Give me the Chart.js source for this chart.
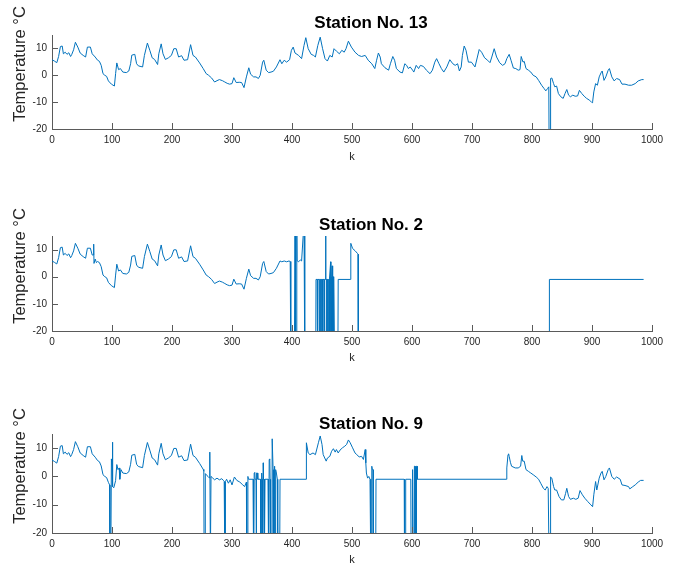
<!DOCTYPE html>
<html><head><meta charset="utf-8">
<script src="https://cdn.jsdelivr.net/npm/chart.js@4.4.1/dist/chart.umd.min.js"></script>
<style>
html,body{margin:0;padding:0;background:#fff}
body{width:678px;height:569px;position:relative;overflow:hidden}
canvas{position:absolute;left:0}
</style>
</head><body>
<canvas id="c1" width="678" height="190" style="top:0px"></canvas>
<canvas id="c2" width="678" height="190" style="top:190px"></canvas>
<canvas id="c3" width="678" height="189" style="top:380px"></canvas>
<script>
// ---- data (k, temperature °C) ----
const xTicks = [0,100,200,300,400,500,600,700,800,900,1000];
const yTicks = [-20,-10,0,10];
const titles = ["Station No. 13","Station No. 2","Station No. 9"];

const station13 = [[0,5.8],[4,5.3],[8,4.7],[11,7],[14,10.7],[17,10.9],[19,8],[22,8.6],[25,7.8],[28,8.4],[31,7],[33,7.8],[36,9.5],[39,12.3],[43,10.5],[47,8.3],[52,7.4],[56,6.8],[59,10.5],[64,10.5],[67,8],[72,6.8],[76,5.6],[79,5.2],[82,3.7],[85,0.6],[88,0],[91,-0.4],[94,-2.1],[99,-3.3],[104,-4],[106,0.6],[108,4.6],[111,2.1],[114,2.5],[118,1.2],[124,1],[128,1.6],[131,4.3],[133,7.5],[138,7.8],[141,4.3],[144,3.5],[151,3.1],[154,7.4],[159,12],[163,9.3],[167,6.5],[171,5.9],[176,4],[178,8],[182,11.7],[185,8],[189,5.9],[194,6.5],[199,7.4],[203,9.9],[207,9.9],[211,6.8],[216,7.3],[220,5.6],[226,5.8],[231,11.4],[235,7.4],[239,6.8],[246,4.6],[252,2.5],[257,0.6],[261,0],[266,-1],[271,-2.5],[275,-2],[279,-1.6],[284,-2],[288,-2.5],[292,-3],[296,-3.3],[300,-3.1],[303,-0.9],[307,-2.7],[312,-2.6],[316,-2.7],[320,-4.6],[324,-0.6],[328,2.8],[331,0.4],[336,-0.6],[340,-0.6],[344,-1.2],[347,0],[351,4.9],[353,5.6],[357,1.9],[361,1],[365,1.2],[369,1.5],[374,3.1],[380,5.8],[383,4.3],[387,5.6],[391,4.9],[396,5.8],[399,9.3],[402,10.5],[405,8.3],[411,7.4],[416,6.2],[420,11.1],[423,14],[427,9.9],[432,7.8],[436,7.4],[439,6.8],[443,11.1],[447,14.2],[451,9.9],[455,6.2],[459,5.3],[463,7.4],[467,6.8],[470,9.9],[474,9],[479,8],[483,9.3],[487,8.6],[490,9.9],[494,12.7],[499,10.5],[505,8.6],[511,7.4],[516,7],[522,7.4],[527,5.6],[533,4.3],[538,2.5],[541,5.6],[544,8.3],[547,6.8],[549,4.3],[555,2.8],[561,1.9],[564,4.3],[568,7],[571,5.6],[574,2.5],[580,1.2],[584,0.9],[588,4.3],[591,3.7],[594,2.5],[597,3.1],[601,1.9],[603,1.2],[607,3.7],[611,2.5],[614,3.7],[619,3.3],[624,1.9],[630,0.6],[634,1.9],[638,4.9],[641,6.2],[645,4.3],[649,2.5],[653,1.2],[658,3.1],[663,5.8],[668,4.3],[672,3.7],[676,4.3],[679,1.6],[682,3.1],[684,7.4],[687,10.9],[690,9.3],[694,4.9],[699,4.9],[705,3.1],[709,6.8],[712,9.6],[716,8.6],[721,6.5],[726,5.6],[730,4.7],[733,6.8],[737,9.9],[741,6.8],[746,4.7],[751,3.7],[755,4.3],[758,6.2],[762,7.8],[765,5.6],[769,2.7],[773,2.5],[777,1.9],[780,2.1],[782,7],[785,4.9],[787,5.2],[790,2.5],[794,1.9],[798,1.2],[802,0],[807,-0.6],[811,-1.9],[816,-3.7],[820,-4.9],[823,-5.8],[826,-4.9],[828,-4.3],[828.6,-30],[830.4,-30],[831,-1.2],[833,-1],[836,-3.1],[838,-4.3],[841,-4],[844,-6.8],[848,-8],[852,-8.6],[855,-6.8],[858,-5.3],[861,-7.4],[864,-8],[868,-7.4],[872,-7.8],[876,-7.7],[879,-5.6],[883,-6.8],[887,-7.8],[891,-8.6],[896,-9.3],[900,-10.2],[901,-9.9],[903,-6.2],[906,-3.1],[909,-3.7],[912,-0.6],[915,0.9],[917,1.6],[920,-1.9],[923,-0.6],[927,1.9],[929,2.5],[933,-0.6],[937,-2.1],[941,-1.2],[946,-1.6],[950,-3.3],[955,-3.3],[961,-3.7],[966,-3.7],[972,-3.1],[977,-2.1],[983,-1.6],[986,-1.6]];

const station2 = [[0,5.8],[4,5.3],[8,4.7],[11,7],[14,10.7],[17,10.9],[19,8],[22,8.6],[25,7.8],[28,8.4],[31,7],[33,7.8],[36,9.5],[39,12.3],[43,10.5],[47,8.3],[52,7.4],[56,6.8],[59,10.5],[64,10.5],[67,8],[69,8],[69.5,12],[70,4.9],[72,6.5],[74,5.2],[76,5.6],[79,5.2],[82,3.7],[85,0.6],[88,0],[91,-0.4],[94,-2.1],[99,-3.3],[104,-4],[106,0.6],[108,4.6],[111,2.1],[114,2.5],[118,1.2],[124,1],[128,1.6],[131,4.3],[133,7.5],[138,7.8],[141,4.3],[144,3.5],[151,3.1],[154,7.4],[159,12],[163,9.3],[167,6.5],[171,5.9],[176,4],[178,8],[182,11.7],[185,8],[189,5.9],[194,6.5],[199,7.4],[203,9.9],[207,9.9],[211,6.8],[216,7.3],[220,5.6],[226,5.8],[231,11.4],[235,7.4],[239,6.8],[246,4.6],[252,2.5],[257,0.6],[261,0],[266,-1],[271,-2.5],[275,-2],[279,-1.6],[284,-2],[288,-2.5],[292,-3],[296,-3.3],[300,-3.1],[303,-0.9],[307,-2.7],[312,-2.6],[316,-2.7],[320,-4.6],[324,-0.6],[328,2.8],[331,0.4],[336,-0.6],[340,-0.6],[344,-1.2],[347,0],[351,4.9],[353,5.6],[357,1.9],[361,1],[365,1.2],[369,1.5],[374,3.1],[380,5.8],[383,5.5],[387,5.8],[391,5.5],[395,5.8],[397,5.6],[398,-30],[404,-30],[405,20],[406,-30],[407,-30],[408,20],[408.5,5.9],[411,5.5],[414,6.2],[416,5.8],[420,20],[421,20],[421.5,-30],[439.5,-30],[440,-1],[442,-1],[442.3,-30],[442.7,-1],[445,-1],[445.4,-30],[445.8,-1],[448,-1],[448.3,-30],[448.7,-1],[451,-1],[451.3,-30],[451.7,-1],[454,-1],[454.3,-30],[454.7,-1],[455.5,-1],[456,20],[456.5,-1],[458,-1],[458.3,-30],[458.7,-1],[460,-1],[460.3,-30],[460.7,-1],[462,-1],[462.3,-30],[462.7,-0.5],[464.4,5.5],[464.8,-30],[465.2,0],[466,-30],[466.4,0],[467,4],[467.5,-0.5],[468,-30],[468.5,0],[469.2,-30],[469.8,-0.5],[471,-30],[476.5,-30],[477,-1],[497,-1],[498,12.3],[501,10.4],[505,9.6],[509,8.6],[510,8.3],[510.5,-30],[828.5,-30],[829,-1],[986,-1]];

const station9 = [[0,5.8],[4,5.3],[8,4.7],[11,7],[14,10.7],[17,10.9],[19,8],[22,8.6],[25,7.8],[28,8.4],[31,7],[33,7.8],[36,9.5],[39,12.3],[43,10.5],[47,8.3],[52,7.4],[56,6.8],[59,10.5],[64,10.5],[67,8],[72,6.8],[76,5.6],[79,5.2],[82,3.7],[85,0.6],[88,0],[91,-0.4],[94,-2.1],[96,-3],[96.5,-30],[98,-30],[99,6.2],[100,3],[100.5,12.1],[101.5,-3.6],[103,-4],[106,-1.5],[108,4.2],[110,2.4],[112,3],[113,-1],[115,2.4],[118,1.2],[124,1],[128,1.6],[131,4.3],[133,7.5],[138,7.8],[141,4.3],[144,3.5],[151,3.1],[154,7.4],[159,12],[163,9.3],[167,6.5],[171,5.9],[176,4],[178,8],[182,11.7],[185,8],[189,5.9],[194,6.5],[199,7.4],[203,9.9],[207,9.9],[211,6.8],[216,7.3],[220,5.6],[226,5.8],[231,11.4],[235,7.4],[239,6.8],[246,4.6],[252,2.5],[253,1.8],[253.5,-30],[255,-30],[255.5,1],[257,0.6],[260,0],[262,-0.5],[263,8.6],[264,-30],[264.5,-30],[265,0],[268,-0.6],[271,-1.2],[275,-0.6],[279,-1.2],[283,-0.8],[286,-1.5],[287,-1.8],[288,-30],[288.5,-30],[289,-1.8],[291,-1],[294,-2.4],[297,-1.2],[300,-3],[304,-0.2],[308,-1.4],[313,-2],[318,-3],[321,-3.6],[324,-2],[324.5,-30],[326,-30],[326.5,0],[327.5,-1],[335,-1],[335.5,-30],[336.5,-30],[337,1.2],[338,1.4],[338.5,-1],[340,-1],[340.5,-30],[341,1.2],[342.5,1.2],[343,-1],[347.5,-1],[348,-30],[349,-30],[349.5,1.2],[350,-1],[350.5,-30],[351.5,-30],[352,4.8],[352.5,-1],[353.5,-1],[354,-30],[355,-1],[360,-1],[360.5,-30],[361.5,-30],[362,6],[363,6.2],[363.5,-1],[364,-1],[364.5,-30],[366.5,-30],[367,13.3],[368.5,2.4],[369,-30],[370,-30],[370.5,3.6],[371.5,2.4],[372,-30],[372.5,-30],[373,2.4],[374,1.2],[375.5,-1],[376,-1],[376.5,-30],[379.5,-30],[380,-1],[423.5,-1],[424,11.9],[427,8.3],[430,7.7],[435,8.3],[439,7.7],[444,11.9],[447,14.3],[450,11.3],[452,7.7],[457,5.4],[459,6.5],[463,7.1],[466,8.9],[469,9.8],[472,8.6],[474,9.5],[477,8.3],[480,9.3],[484,10.1],[488,10.7],[491,11.3],[494,12.9],[497,11.9],[501,10.1],[505,8.3],[508,7.7],[512,6.9],[516,7.1],[519,6],[522,9.5],[523,4.8],[524,1.2],[526,-0.6],[528,0],[530,-1],[531,-1],[531.5,-30],[532.5,-30],[533,3.6],[534,2.4],[535,2.4],[535.5,-30],[539.5,-30],[540,-1],[587,-1],[587.5,-30],[589,-30],[589.5,-1],[598,-1],[598.5,-30],[600,-30],[600.5,2.4],[601.5,2.4],[602,-30],[603.5,-30],[604,3.6],[605,3.6],[605.5,-30],[607,-30],[607.5,3.6],[608.5,3.6],[609,-1],[757,-1],[758,3],[760,7.7],[761,8],[762,7.1],[764,5],[766,3.6],[772,3],[777,3],[781,3.6],[783,7.4],[784.5,5.4],[787,5.4],[790,2.4],[794,1.8],[798,1.2],[802,0.6],[807,-0.2],[811,-1],[815,-2.6],[819,-4.2],[822,-4.8],[825,-3.6],[827,-4.2],[828,-4.2],[828.5,-30],[830.5,-30],[831,-0.2],[833,-0.6],[836,-3.6],[838,-4.8],[841,-4.8],[845,-7.1],[849,-8.3],[853,-8.3],[856,-6],[858,-4.2],[861,-7.1],[864,-8.1],[869,-7.7],[873,-8.1],[877,-7.7],[880,-5],[884,-6.5],[888,-7.7],[893,-8.9],[897,-9.8],[901,-10.7],[903,-6.5],[906,-1.8],[908,-4.8],[912,-0.6],[915,1.2],[917,1.8],[920,-1.2],[923,0],[927,2.4],[929,3],[933,0],[937,-1],[941,-0.2],[947,-1],[950,-3],[955,-3.2],[961,-3.6],[963,-4.4],[968,-3.6],[972,-3],[977,-2],[981,-1.4],[986,-1.4]];

// ---- rendering ----
const FONT = "'Liberation Sans', Arial, Helvetica, sans-serif";
const AXIS = '#5a5a5a';
const TXT = '#262626';

const decor = {
  id: 'decor',
  afterDraw(chart) {
    const o = chart.options.plugins.decor;
    const ctx = chart.ctx, xs = chart.scales.x, ys = chart.scales.y, a = chart.chartArea;
    ctx.save();
    ctx.strokeStyle = AXIS; ctx.lineWidth = 1;
    xs.ticks.forEach(t => {
      const px = Math.round(xs.getPixelForValue(t.value)) + 0.5;
      ctx.beginPath(); ctx.moveTo(px, a.bottom); ctx.lineTo(px, a.bottom - 6); ctx.stroke();
    });
    ys.ticks.forEach(t => {
      const py = Math.round(ys.getPixelForValue(t.value)) + 0.5;
      ctx.beginPath(); ctx.moveTo(a.left, py); ctx.lineTo(a.left + 6, py); ctx.stroke();
    });
    ctx.fillStyle = '#000';
    ctx.textAlign = 'center'; ctx.textBaseline = 'middle';
    ctx.font = 'bold 17px ' + FONT;
    ctx.fillText(o.title, 371, o.titleY);
    ctx.fillStyle = TXT;
    ctx.font = '11px ' + FONT;
    ctx.fillText('k', (a.left + a.right) / 2, o.kY);
    ctx.translate(20, o.ylabY); ctx.rotate(-Math.PI / 2);
    ctx.font = '16.5px ' + FONT;
    ctx.fillText('Temperature °C', 0, 0);
    ctx.restore();
  }
};

function makeChart(id, series, cfg) {
  return new Chart(document.getElementById(id), {
    type: 'line',
    data: { datasets: [{
      data: series.map(p => ({ x: p[0], y: p[1] })),
      borderColor: '#0072BD', borderWidth: 1, pointRadius: 0, tension: 0, fill: false
    }]},
    options: {
      responsive: false, animation: false, events: [],
      layout: { padding: { left: 0, right: 26, top: cfg.top, bottom: cfg.bottom } },
      plugins: { legend: { display: false }, tooltip: { enabled: false }, title: { display: false },
                 decor: { title: cfg.title, titleY: cfg.titleY, kY: cfg.kY, ylabY: cfg.ylabY } },
      scales: {
        x: { type: 'linear', min: 0, max: 1000,
             afterBuildTicks: s => { s.ticks = xTicks.map(v => ({ value: v })); },
             ticks: { font: { family: FONT, size: 10 }, color: TXT, padding: 5, maxRotation: 0, autoSkip: false,
                      callback: v => String(v) },
             grid: { display: false, drawTicks: false },
             border: { display: true, color: AXIS, width: 1 },
             afterFit: s => { s.height = 30; } },
        y: { type: 'linear', min: -20, max: 15,
             afterBuildTicks: s => { s.ticks = yTicks.map(v => ({ value: v })); },
             ticks: { font: { family: FONT, size: 10 }, color: TXT, padding: 5, callback: v => String(v) },
             grid: { display: false, drawTicks: false },
             border: { display: true, color: AXIS, width: 1 },
             afterFit: s => { s.width = 52; } }
      }
    },
    plugins: [decor]
  });
}

makeChart('c1', station13, { top: 35, bottom: 31, title: titles[0], titleY: 23, kY: 157, ylabY: 64 });
makeChart('c2', station2,  { top: 46, bottom: 19, title: titles[1], titleY: 35, kY: 168, ylabY: 76 });
makeChart('c3', station9,  { top: 54, bottom: 6,  title: titles[2], titleY: 44, kY: 180, ylabY: 86 });
</script>
</body></html>
